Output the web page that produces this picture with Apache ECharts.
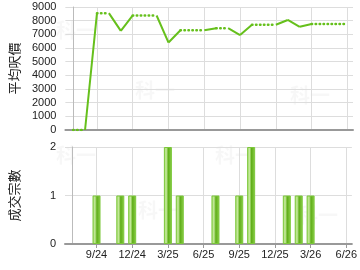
<!DOCTYPE html>
<html>
<head>
<meta charset="utf-8">
<script src="https://cdn.jsdelivr.net/npm/echarts@6/dist/echarts.min.js"></script>
<style>
  html, body { margin: 0; padding: 0; background: #fff; }
  #chart { width: 360px; height: 270px; }
</style>
</head>
<body>
<div id="chart"></div>
<script>
// 月份 (2024-07 ~ 2026-06)，x 軸用月份序號
const months = ['2024-07', '2024-08', '2024-09', '2024-10', '2024-11', '2024-12',
  '2025-01', '2025-02', '2025-03', '2025-04', '2025-05', '2025-06',
  '2025-07', '2025-08', '2025-09', '2025-10', '2025-11', '2025-12',
  '2026-01', '2026-02', '2026-03', '2026-04', '2026-05', '2026-06'];
// 平均呎價 (無成交月份沿用上月)
const avgPrice = [0, 0, 8550, 8550, 7250, 8380, 8380, 8380, 6400, 7300, 7300, 7300,
  7450, 7450, 6950, 7700, 7700, 7700, 8050, 7550, 7750, 7750, 7750, 7750];
// 成交宗數
const deals = [0, 0, 1, 0, 1, 1, 0, 0, 2, 1, 0, 0, 1, 0, 1, 2, 0, 0, 1, 1, 1, 0, 0, 0];
// 刻度
const tickIndex = [2, 5, 8, 11, 14, 17, 20, 23];
const tickLabels = ['9/24', '12/24', '3/25', '6/25', '9/25', '12/25', '3/26', '6/26'];

// 有成交的線段用實線，沒有成交的用點線
let solid = [];
let dotted = [];
for (let i = 1; i < months.length; i++) {
  const seg = [[i - 1, avgPrice[i - 1]], [i, avgPrice[i]], [i, null]];
  if (deals[i] > 0) solid = solid.concat(seg);
  else dotted = dotted.concat(seg);
}
const barData = [];
deals.forEach((v, i) => { if (v > 0) barData.push([i, v]); });

const labelMap = {};
tickIndex.forEach((t, i) => { labelMap[t] = tickLabels[i]; });

const green = '#66c01c';
const gridColor = '#dddddd';
const textColor = '#222';
const font = 'Liberation Sans, Arial, sans-serif';
const cjk = '"Noto Sans CJK TC", sans-serif';

function xAxis(gridIndex, showLabel) {
  return {
    type: 'value',
    gridIndex: gridIndex,
    min: -0.65,
    max: 23.47,
    axisLine: { show: true, lineStyle: { color: '#999', width: 2 } },
    axisTick: { show: showLabel, customValues: tickIndex, length: 4, lineStyle: { color: '#999' } },
    axisLabel: {
      show: showLabel,
      customValues: tickIndex,
      color: textColor,
      fontSize: 11,
      fontFamily: font,
      margin: 5,
      formatter: v => labelMap[v] || ''
    },
    splitLine: { show: true, lineStyle: { color: gridColor, width: 1 } }
  };
}

function yAxis(gridIndex, max, interval, name) {
  return {
    type: 'value',
    gridIndex: gridIndex,
    min: 0,
    max: max,
    interval: interval,
    name: name,
    nameLocation: 'middle',
    nameGap: 44,
    nameTextStyle: { color: textColor, fontSize: 13, fontFamily: cjk },
    axisLine: { show: true, lineStyle: { color: '#bbb' } },
    axisTick: { show: false },
    axisLabel: { color: textColor, fontSize: 11, fontFamily: font, margin: 9, formatter: v => String(v) },
    splitLine: { lineStyle: { color: gridColor } }
  };
}

const watermark = (x, y) => ({
  type: 'text', left: x, top: y, silent: true,
  style: { text: '科一', fill: 'rgba(0,0,0,0.03)', font: 'bold 20px "Noto Sans CJK TC"' }
});

let chart = echarts.init(document.getElementById('chart'), null, { width: 360, height: 270 });
let option = {
  animation: false,
  backgroundColor: '#fff',
  graphic: [
    watermark(56, 20), watermark(135, 80), watermark(290, 85),
    watermark(56, 145), watermark(138, 200), watermark(215, 145), watermark(298, 205)
  ],
  grid: [
    { left: 65, right: 7, top: 7, height: 123 },
    { left: 65, right: 7, top: 147, height: 97 }
  ],
  xAxis: [xAxis(0, false), xAxis(1, true)],
  yAxis: [yAxis(0, 9000, 1000, '平均呎價'), yAxis(1, 2, 1, '成交宗數')],
  series: [
    {
      name: '平均呎價',
      type: 'line',
      xAxisIndex: 0,
      yAxisIndex: 0,
      z: 5,
      data: solid,
      symbol: 'none',
      lineStyle: { color: green, width: 2 }
    },
    {
      name: '平均呎價(無成交)',
      type: 'line',
      xAxisIndex: 0,
      yAxisIndex: 0,
      z: 5,
      data: dotted,
      symbol: 'none',
      lineStyle: { color: green, width: 2.5, type: [0.5, 3.5], cap: 'round' }
    },
    {
      name: '成交宗數',
      type: 'bar',
      xAxisIndex: 1,
      yAxisIndex: 1,
      data: barData,
      barWidth: 8,
      itemStyle: {
        borderColor: '#7cc83a',
        borderWidth: 1,
        color: new echarts.graphic.LinearGradient(0, 0, 1, 0, [
          { offset: 0, color: '#a6dc6c' },
          { offset: 0.3, color: '#c4e99a' },
          { offset: 0.55, color: '#5fae18' },
          { offset: 1, color: '#8fd04e' }
        ])
      }
    }
  ]
};
chart.setOption(option);
</script>
</body>
</html>
